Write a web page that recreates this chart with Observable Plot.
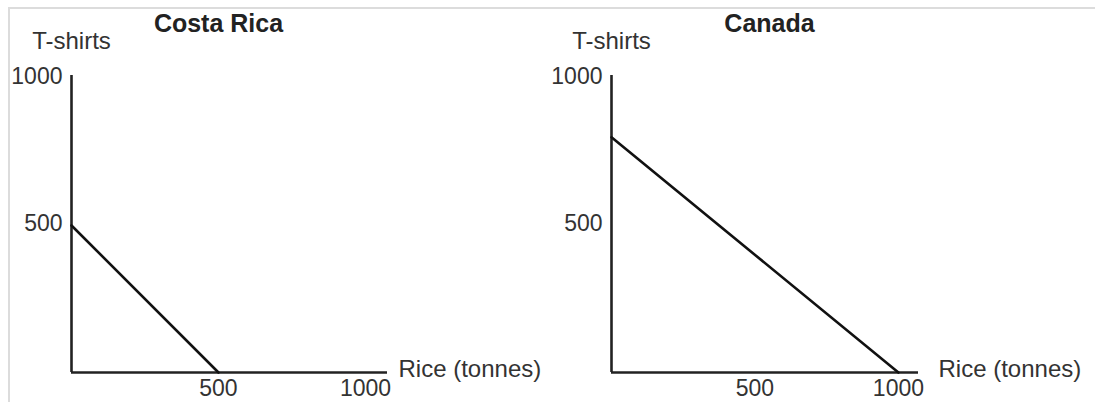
<!DOCTYPE html>
<html>
<head>
<meta charset="utf-8">
<script src="https://cdn.jsdelivr.net/npm/d3@7"></script>
<script src="https://cdn.jsdelivr.net/npm/@observablehq/plot@0.6"></script>
<style>
  html, body { margin: 0; padding: 0; background: #fff; }
  #wrap { position: relative; width: 1095px; height: 402px; overflow: hidden; }
  #frame { position: absolute; left: 8px; top: 7px; width: 1085px; height: 400px;
           border-top: 2px solid #dcdcdc; border-left: 2px solid #dcdcdc; }
  .panel { position: absolute; top: 0; }
</style>
</head>
<body>
<div id="wrap"><div id="frame"></div></div>
<script>
// Data
const countries = ["Costa Rica", "Canada"];
const tshirtsMax = [500, 800];     // T-shirts produced if all resources go to T-shirts
const riceMax = [500, 1000];       // Rice (tonnes) produced if all resources go to rice
const xTicks = [500, 1000];
const yTicks = [500, 1000];
const yLabel = "T-shirts";
const xLabel = "Rice (tonnes)";

const font = "Liberation Sans, Arial, Helvetica, sans-serif";
const layouts = [
  {left: 0, width: 560, marginRight: 173, xMax: 1075, titleDx: 147, labelDx: 11},
  {left: 540, width: 555, marginRight: 177, xMax: 1070, titleDx: 158, labelDx: 20}
];

countries.forEach((country, i) => {
  const L = layouts[i];
  const ppf = [{x: 0, y: tshirtsMax[i]}, {x: riceMax[i], y: 0}];
  const chart = Plot.plot({
    width: L.width,
    height: 402,
    marginLeft: 71,
    marginRight: L.marginRight,
    marginTop: 75,
    marginBottom: 30,
    style: {fontFamily: font, fontSize: "23px", color: "#333", background: "transparent", overflow: "visible"},
    x: {domain: [0, L.xMax]},
    y: {domain: [0, 1010]},
    marks: [
      Plot.axisX({ticks: xTicks, tickFormat: d => String(d), tickSize: 0, tickPadding: 7, label: null, fontSize: 23}),
      Plot.axisY({ticks: yTicks, tickFormat: d => String(d), tickSize: 0, tickPadding: 9, label: null, fontSize: 23, dy: -2}),
      Plot.ruleY([0], {stroke: "#222", strokeWidth: 2.6}),
      Plot.ruleX([0], {stroke: "#222", strokeWidth: 2.6}),
      Plot.line(ppf, {x: "x", y: "y", stroke: "#111", strokeWidth: 2.6}),
      Plot.text([country], {frameAnchor: "top-left", dx: L.titleDx, dy: -61, text: d => d,
        fontWeight: "bold", fontSize: 25, fill: "#222", textAnchor: "middle"}),
      Plot.text([yLabel], {frameAnchor: "top-left", dy: -44, text: d => d,
        fontSize: 24, fill: "#333", textAnchor: "middle"}),
      Plot.text([xLabel], {frameAnchor: "bottom-right", dx: L.labelDx, dy: 4, text: d => d,
        fontSize: 24, fill: "#333", textAnchor: "start"})
    ]
  });
  chart.classList.add("panel");
  chart.style.left = L.left + "px";
  document.getElementById("wrap").appendChild(chart);
});
</script>
</body>
</html>
